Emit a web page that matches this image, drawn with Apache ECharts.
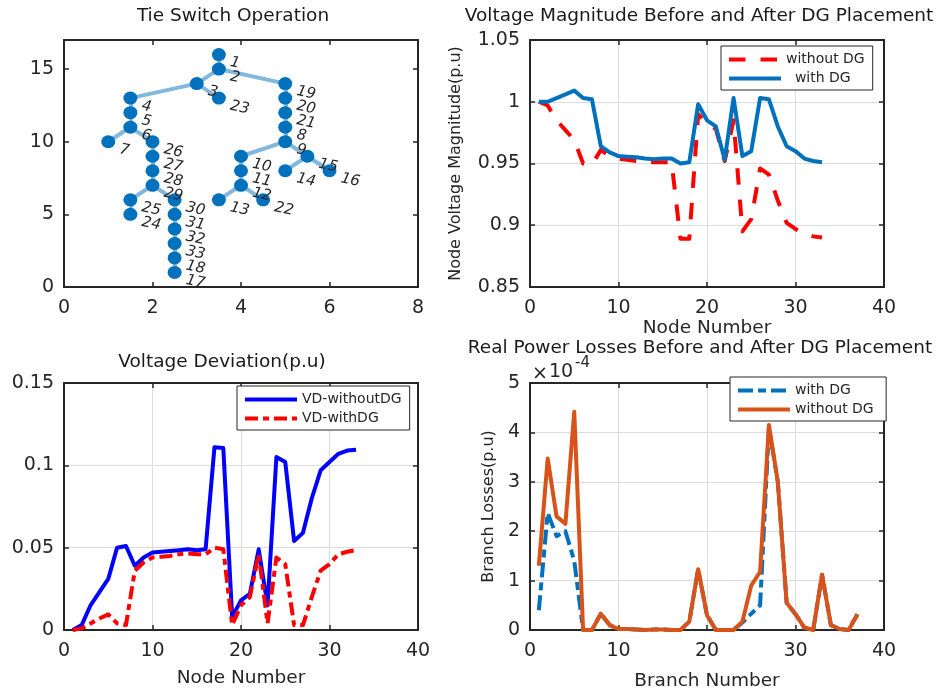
<!DOCTYPE html>
<html><head><meta charset="utf-8"><style>html,body{margin:0;background:#fff}#c{width:940px;height:692px}</style>
<script src="https://cdn.jsdelivr.net/npm/echarts@6/dist/echarts.min.js"></script></head><body><div id="c"></div>
<script>
const nodeIds=[1,2,3,4,5,6,7,26,27,28,29,25,24,30,31,32,33,18,17,23,19,20,21,8,9,10,11,12,13,22,15,14,16];
const nodeX=[3.5,3.5,3,1.5,1.5,1.5,1,2,2,2,2,1.5,1.5,2.5,2.5,2.5,2.5,2.5,2.5,3.5,5,5,5,5,5,4,4,4,3.5,4.5,5.5,5,6];
const nodeY=[16,15,14,13,12,11,10,10,9,8,7,6,5,6,5,4,3,2,1,13,14,13,12,11,10,9,8,7,6,6,9,8,8];
const edgeFrom=[1,2,2,3,3,4,5,6,6,26,27,28,29,25,29,30,31,32,33,18,19,20,21,8,9,10,11,12,12,9,15,15];
const edgeTo=[2,3,19,4,23,5,6,7,26,27,28,29,25,24,30,31,32,33,18,17,20,21,8,9,10,11,12,13,22,15,14,16];
const nodeNumbers=[1,2,3,4,5,6,7,8,9,10,11,12,13,14,15,16,17,18,19,20,21,22,23,24,25,26,27,28,29,30,31,32,33];
const branchNumbers=[1,2,3,4,5,6,7,8,9,10,11,12,13,14,15,16,17,18,19,20,21,22,23,24,25,26,27,28,29,30,31,32,33,34,35,36,37];
const voltageWithout=[1,.997,.985,.977,.969,.95,.949,.961,.956,.954,.953,.952,.951,.951,.951,.951,.889,.889,.99,.982,.978,.952,.985,.895,.905,.946,.941,.92,.902,.897,.893,.891,.89];
const voltageWith=[1,1,1.003,1.006,1.009,1.003,1.002,.964,.959,.956,.9555,.955,.954,.9535,.954,.954,.95,.951,.998,.985,.98,.953,1.003,.956,.96,1.003,1.002,.98,.964,.96,.954,.952,.951];
const deviationWithout=[0,.003,.015,.023,.031,.05,.051,.039,.044,.047,.0475,.048,.0485,.049,.0485,.049,.111,.1105,.008,.018,.022,.049,.015,.105,.102,.054,.059,.08,.097,.102,.107,.109,.1095];
const deviationWith=[0,.001,.004,.007,.0095,.004,.003,.036,.041,.044,.0445,.045,.046,.0465,.046,.046,.05,.049,.003,.015,.02,.046,.004,.044,.04,.003,.003,.02,.036,.04,.046,.0475,.0485];
const lossWith=[.4,2.37,1.9,2,1.4,0,0,.33,.1,.02,.02,.01,0,.01,.01,0,0,.17,1.23,.3,0,0,0,.15,.33,.5,4.1,3,.55,.32,.05,0,1.12,.1,.02,0,.32];
const lossWithout=[1.3,3.47,2.3,2.15,4.42,0,0,.33,.1,.02,.02,.01,0,.01,.01,0,0,.17,1.23,.3,0,0,0,.17,.9,1.18,4.15,3,.55,.32,.05,0,1.12,.1,.02,0,.32];
const titles=['Tie Switch Operation','Voltage Magnitude Before and After DG Placement','Voltage Deviation(p.u)','Real Power Losses Before and After DG Placement'];

const INK='#262626', FONT='DejaVu Sans';
const rects=[[64,40],[530,40],[64,383],[530,383]], W=354, H=247;
const zip=(a,b)=>a.map((v,i)=>[v,b[i]]);
const grid=rects.map(r=>({left:r[0],top:r[1],width:W,height:H,show:false,containLabel:false,outerBoundsMode:'none'}));
const xAxis=[],yAxis=[];
function axes(i,xmax,xint,ymin,ymax,yint,fmt,maxLabel,xname,xgap,yname,ygap,gridOn){
  const split={show:gridOn,lineStyle:{color:'#dcdcdc',width:1}};
  const line={show:true,onZero:false,lineStyle:{color:INK,width:2}};
  const tick={show:true,inside:true,length:5,lineStyle:{color:INK,width:1.5}};
  xAxis.push({gridIndex:i,type:'value',min:0,max:xmax,interval:xint,position:'bottom',axisLine:line,axisTick:tick,splitLine:split,
    axisLabel:{color:INK,fontSize:19,fontFamily:FONT,margin:12,hideOverlap:false,showMinLabel:true,showMaxLabel:true},
    name:xname,nameLocation:'middle',nameGap:xgap,nameTextStyle:{color:INK,fontSize:18.5,fontFamily:FONT}});
  xAxis.push({gridIndex:i,type:'value',min:0,max:xmax,interval:xint,position:'top',axisLine:line,axisTick:tick,splitLine:{show:false},axisLabel:{show:false}});
  yAxis.push({gridIndex:i,type:'value',min:ymin,max:ymax,interval:yint,position:'left',axisLine:line,axisTick:tick,splitLine:split,
    axisLabel:{color:INK,fontSize:19,fontFamily:FONT,margin:10,formatter:fmt,showMinLabel:true,showMaxLabel:maxLabel},
    name:yname,nameLocation:'middle',nameGap:ygap,nameTextStyle:{color:INK,fontSize:16,fontFamily:FONT}});
  yAxis.push({gridIndex:i,type:'value',min:ymin,max:ymax,interval:yint,position:'right',axisLine:line,axisTick:tick,splitLine:{show:false},axisLabel:{show:false}});
}
const trim=v=>String(+v.toFixed(2));
axes(0,8,2,0,17,5,v=>v,false,'',0,'',0,false);
axes(1,40,10,.85,1.05,.05,trim,true,'Node Number',28,'Node Voltage Magnitude(p.u)',66,true);
axes(2,40,10,0,.15,.05,trim,true,'Node Number',39,'',0,true);
axes(3,40,10,0,5,1,v=>v,true,'Branch Number',42,'Branch Losses(p.u)',33,true);

function line(name,i,xs,ys,color,dash){
  return {type:'line',name,xAxisIndex:i*2,yAxisIndex:i*2,data:zip(xs,ys),showSymbol:false,symbol:'none',
    lineStyle:{color,width:4,type:dash||'solid',cap:'butt',join:'round'},itemStyle:{color},silent:true};
}
const series=[
 {type:'graph',coordinateSystem:'cartesian2d',xAxisIndex:0,yAxisIndex:0,layout:'none',silent:true,
  symbol:'circle',symbolSize:[14,13],itemStyle:{color:'#0072BD',opacity:1},
  lineStyle:{color:'#82b8de',width:4,opacity:1,curveness:0},
  label:{show:true,position:'right',distance:3,offset:[3,7],rotate:-12,formatter:'{b}',fontStyle:'italic',fontSize:15,fontFamily:FONT,color:INK},
  data:nodeIds.map((id,k)=>({name:String(id),value:[nodeX[k],nodeY[k]]})),
  links:edgeFrom.map((f,k)=>({source:String(f),target:String(edgeTo[k])}))},
 line('without DG',1,nodeNumbers,voltageWithout,'#ff0000',[16.5,15]),
 line('  with DG',1,nodeNumbers,voltageWith,'#0072BD'),
 line('VD-withoutDG',2,nodeNumbers,deviationWithout,'#0000ff'),
 line('VD-withDG',2,nodeNumbers,deviationWith,'#ff0000',[13,5,6,5]),
 line('with DG',3,branchNumbers,lossWith,'#0072BD',[15,5,8,5]),
 line('without DG ',3,branchNumbers,lossWithout,'#D95319')
];
function legend(names,left,top,right){
  return {data:names.map(n=>({name:n})),left,top,orient:'vertical',selectedMode:false,itemWidth:52,itemHeight:4,itemGap:4,
    padding:[6,right,4,6],backgroundColor:'#fff',borderColor:INK,borderWidth:1,
    lineStyle:{width:4},itemStyle:{opacity:0},
    textStyle:{color:INK,fontSize:14,fontFamily:FONT,height:15,lineHeight:15}};
}
const option={animation:false,backgroundColor:'#fff',grid,xAxis,yAxis,series,
 title:[
  {text:titles[0],left:228,top:2,textAlign:'center'},
  {text:titles[1],left:694,top:2,textAlign:'center'},
  {text:titles[2],left:217,top:348,textAlign:'center'},
  {text:titles[3],left:695,top:334,textAlign:'center'},
 ].map(t=>({...t,textStyle:{color:'#1a1a1a',fontSize:18.5,fontWeight:'normal',fontFamily:FONT}})),
 legend:[legend(['without DG','  with DG'],721,46,8),legend(['VD-withoutDG','VD-withDG'],237,386,8),legend(['with DG','without DG '],730,377,8)],
 graphic:[{type:'text',left:532,top:365,style:{text:'×',fontSize:19,fill:INK,fontFamily:FONT}},
          {type:'text',left:549,top:363,style:{text:'10',fontSize:19,fill:INK,fontFamily:FONT}},
          {type:'text',left:575,top:356,style:{text:'-4',fontSize:15,fill:INK,fontFamily:FONT}}]
};
echarts.init(document.getElementById('c'),null,{renderer:'canvas'}).setOption(option);
</script></body></html>
